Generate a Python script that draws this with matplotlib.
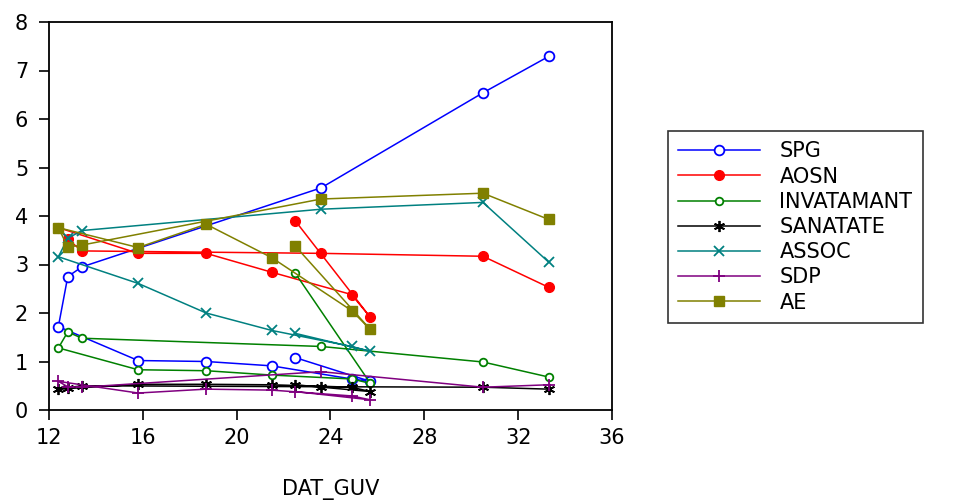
import matplotlib
matplotlib.use("Agg")
import matplotlib.pyplot as plt
import numpy as np

plt.rcParams['font.family'] = ['DejaVu Sans']

# observations in data order (2000 .. 2011)
dat_guv = [22.5, 25.7, 24.9, 21.5, 18.7, 15.8, 12.4, 12.8, 13.4, 23.6, 30.5, 33.3]

spg = [1.08, 0.59, 0.64, 0.91, 1.00, 1.02, 1.72, 2.75, 2.95, 4.58, 6.54, 7.29]
aosn = [3.90, 1.91, 2.38, 2.84, 3.23, 3.23, 3.76, 3.52, 3.28, 3.23, 3.17, 2.53]
invatamant = [2.82, 0.55, 0.64, 0.72, 0.81, 0.83, 1.28, 1.61, 1.48, 1.31, 0.99, 0.68]
sanatate = [0.52, 0.38, 0.47, 0.52, 0.53, 0.53, 0.43, 0.46, 0.50, 0.48, 0.47, 0.43]
assoc = [1.58, 1.21, 1.31, 1.64, 2.00, 2.61, 3.16, 3.54, 3.70, 4.14, 4.28, 3.05]
sdp = [0.38, 0.21, 0.29, 0.41, 0.43, 0.35, 0.59, 0.48, 0.47, 0.79, 0.47, 0.52]
ae = [3.38, 1.66, 2.05, 3.14, 3.83, 3.35, 3.76, 3.36, 3.40, 4.35, 4.47, 3.93]

fig = plt.figure(figsize=(9.74, 5.0), dpi=100)
ax = fig.add_axes([0.0503, 0.18, 0.578, 0.776])

lw = 1.1
ax.plot(dat_guv, spg, color='#0000ff', lw=lw, marker='o', ms=7, mfc='white', mew=1.3, label='SPG')
ax.plot(dat_guv, aosn, color='#ff0000', lw=lw, marker='o', ms=7, mew=1.0, label='AOSN')
ax.plot(dat_guv, invatamant, color='#008000', lw=lw, marker='o', ms=5.5, mfc='white', mew=1.3, label='INVATAMANT')
ax.plot(dat_guv, sanatate, color='black', lw=lw, marker=(6, 2, 0), ms=8, mew=1.3, label='SANATATE')
ax.plot(dat_guv, assoc, color='#008080', lw=lw, marker='x', ms=7, mew=1.3, label='ASSOC')
ax.plot(dat_guv, sdp, color='#800080', lw=lw, marker='+', ms=9, mew=1.3, label='SDP')
ax.plot(dat_guv, ae, color='#808000', lw=lw, marker='s', ms=7, label='AE')

ax.set_xlim(12, 36)
ax.set_ylim(0, 8)
ax.set_xticks(np.arange(12, 37, 4))
ax.set_yticks(np.arange(0, 9, 1))
ax.tick_params(direction='out', length=7, width=1.2, labelsize=15)
ax.tick_params(axis='x', pad=6)
ax.tick_params(axis='y', pad=8)
for s in ax.spines.values():
    s.set_linewidth(1.3)

ax.set_xlabel('DAT_GUV', fontsize=15, labelpad=22)

leg = fig.legend(loc='upper left', bbox_to_anchor=(668 / 974, 1 - 131 / 500),
                 fontsize=15, frameon=True, fancybox=False, handlelength=3.9,
                 handletextpad=0.95, labelspacing=0.25, borderpad=0.5, borderaxespad=0)
leg.get_frame().set_edgecolor('black')
leg.get_frame().set_linewidth(1.2)

fig.savefig('out.png', dpi=100)
